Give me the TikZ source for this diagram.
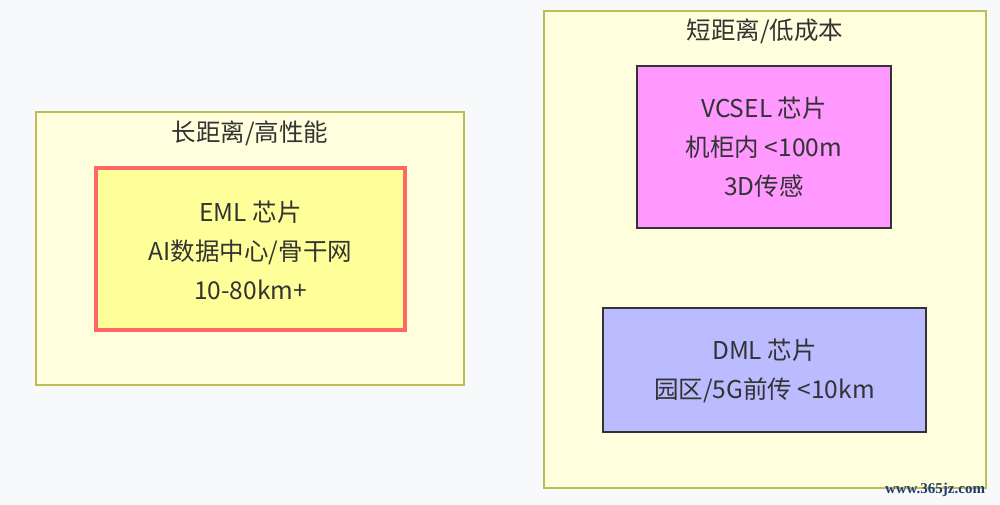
\documentclass[tikz,border=0pt]{standalone}
\usepackage{fontspec}
\setmainfont{Noto Sans CJK SC}
\newfontfamily\wmfont{Liberation Serif}
\definecolor{bgc}{HTML}{F8F9FA}
\definecolor{clfill}{HTML}{FFFFDE}
\definecolor{cldraw}{HTML}{BDBD55}
\definecolor{emlfill}{HTML}{FFFF99}
\definecolor{emldraw}{HTML}{FF6666}
\definecolor{vcfill}{HTML}{FF99FF}
\definecolor{dmfill}{HTML}{BBBBFF}
\definecolor{txt}{HTML}{333333}
\definecolor{wm}{HTML}{1F3A6E}
\tikzset{
  cluster/.style={draw=cldraw, fill=clfill, line width=1.3pt},
  chip/.style={draw=txt, line width=1.1pt},
  lbl/.style={text=txt, font=\fontsize{24.5}{39}\selectfont, align=center},
}
\begin{document}
\begin{tikzpicture}[x=1pt,y=-1pt]
\fill[bgc] (0,0) rectangle (1000,505);
\useasboundingbox (0,0) rectangle (1000,505);
% left cluster
\draw[cluster] (36,112) rectangle (464,385);
\node[lbl] (lt) at (250,133) {长距离/高性能};
\draw[draw=emldraw, fill=emlfill, line width=4pt] (96,168) rectangle (405,330);
\node[lbl] (eml) at (250.5,250) {EML 芯片\\AI数据中心/骨干网\\10-80km+};
% right cluster
\draw[cluster] (544,11) rectangle (986,488);
\node[lbl] (rt) at (765,31) {短距离/低成本};
\draw[chip, fill=vcfill] (637,66) rectangle (891,228);
\node[lbl] (vc) at (764,147) {VCSEL 芯片\\机柜内 <100m\\3D传感};
\draw[chip, fill=dmfill] (603,308) rectangle (926,432);
\node[lbl] (dm) at (764.5,371) {DML 芯片\\园区/5G前传 <10km};
\node[text=wm, font=\wmfont\bfseries\fontsize{15}{15}\selectfont] (w) at (935,490) {www.365jz.com};
\end{tikzpicture}
\end{document}
